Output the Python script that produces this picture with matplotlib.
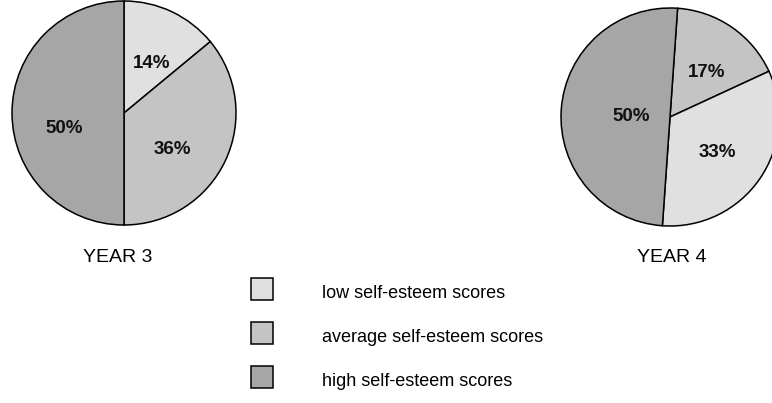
import matplotlib.pyplot as plt
from matplotlib.patches import Rectangle

categorias = ['low self-esteem scores', 'average self-esteem scores', 'high self-esteem scores']
cores = ['#e0e0e0', '#c4c4c4', '#a6a6a6']

# percentagens por ano (low, average, high)
ano3 = [14, 36, 50]
ano4 = [17, 33, 50]  # average, low, high -> ordem em que aparece no grafico
ordem4 = [1, 0, 2]

titulos = ['YEAR 3', 'YEAR 4']

plt.rcParams['font.family'] = ['Liberation Sans', 'DejaVu Sans']

fig = plt.figure(figsize=(7.72, 4.03), dpi=100)
ax = fig.add_axes([0, 0, 1, 1])

props = dict(edgecolor='black', linewidth=1.1)
txt = dict(fontsize=13.5, color='#111111', fontweight='bold')

_, _, pct3 = ax.pie(ano3, colors=cores, startangle=90, counterclock=False,
                    center=(124, 290), radius=112, autopct='%.0f%%', pctdistance=0.52,
                    wedgeprops=props, textprops=txt)
_, _, pct4 = ax.pie(ano4, colors=[cores[i] for i in ordem4], startangle=86, counterclock=False,
                    center=(670, 286), radius=109, autopct='%.0f%%', pctdistance=0.5,
                    wedgeprops=props, textprops=txt)

# pequenos ajustes na posicao dos rotulos
desloc3 = [(3, -3), (-4, -12), (-2, -16)]
desloc4 = [(6, 0), (3, -5), (16, -3)]
for t, (dx, dy) in zip(list(pct3) + list(pct4), desloc3 + desloc4):
    x, y = t.get_position()
    t.set_position((x + dx, y + dy))

ax.text(118, 145, titulos[0], fontsize=14, ha='center', va='center')
ax.text(672, 145, titulos[1], fontsize=14, ha='center', va='center')

ys = [110, 66, 22]
for cor, nome, y in zip(cores, categorias, ys):
    ax.add_patch(Rectangle((251, y - 7), 22, 22, facecolor=cor,
                           edgecolor='black', linewidth=1.1))
    ax.text(322, y, nome, fontsize=13, ha='left', va='center')

ax.set_xlim(0, 772)
ax.set_ylim(0, 403)
ax.set_aspect('auto')
ax.axis('off')

plt.savefig('out.png', dpi=100)
plt.close()
